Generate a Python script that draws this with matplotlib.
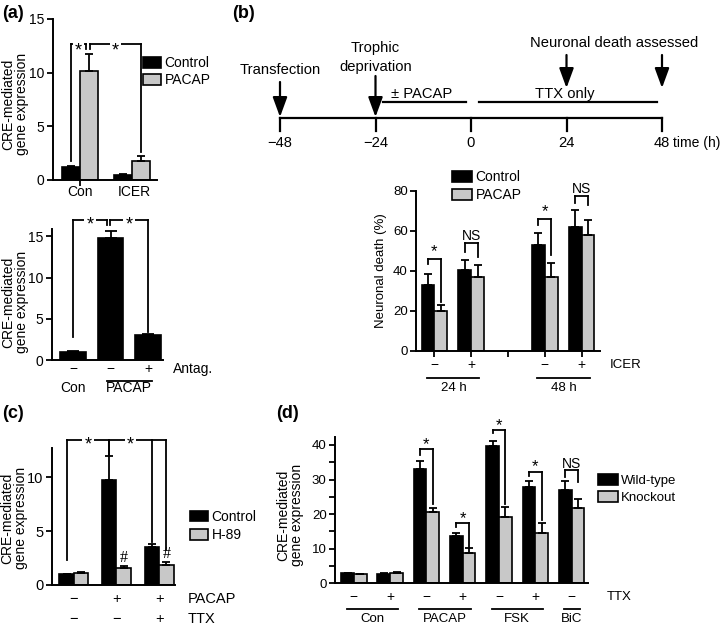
import matplotlib
matplotlib.use('Agg')
import matplotlib.pyplot as plt
from matplotlib.patches import Patch
from matplotlib.transforms import offset_copy
import numpy as np

plt.rcParams['font.family'] = ['Liberation Sans', 'DejaVu Sans']
plt.rcParams['axes.linewidth'] = 1.4

# ---------------- data ----------------
# (a) top: CRE-mediated expression, Con vs ICER
a1_groups = ['Con', 'ICER']
a1_control = [1.15, 0.42]
a1_control_err = [0.08, 0.06]
a1_pacap = [10.1, 1.75]
a1_pacap_err = [1.6, 0.45]
a1_legend = ['Control', 'PACAP']

# (a) bottom: PACAP +/- antagonist
a2_antag = ['\u2212', '\u2212', '+']
a2_treat = ['Con', 'PACAP']
a2_values = [1.0, 14.8, 3.0]
a2_err = [0.05, 0.8, 0.2]

# (b) timeline
tl_ticks = [-48, -24, 0, 24, 48]
tl_tick_labels = ['\u221248', '\u221224', '0', '24', '48']
tl_arrows_early = [-48, -24]
tl_arrows_death = [24, 48]
tl_periods = [('\u00b1 PACAP', -24, 0), ('TTX only', 0, 48)]

# (b) neuronal death
b_pos = [0, 1, 3, 4]
b_icer = ['\u2212', '+', '\u2212', '+']
b_time_groups = [('24 h', 0, 1), ('48 h', 3, 4)]
b_control = [33, 40.5, 53, 62]
b_control_err = [5.5, 5.0, 6.0, 8.5]
b_pacap = [20, 37, 37, 58]
b_pacap_err = [3.0, 6.0, 7.0, 7.5]
b_sig = ['*', 'NS', '*', 'NS']
b_sig_top = [46, 54, 66, 77.5]
b_sig_left = [43.5, 49.5, 63, 74]
b_sig_right = [24.5, 47, 48, 73]

# (c) H-89
c_pacap = ['\u2212', '+', '+']
c_ttx = ['\u2212', '\u2212', '+']
c_control = [1.0, 9.7, 3.5]
c_control_err = [0.05, 2.3, 0.3]
c_h89 = [1.15, 1.6, 1.9]
c_h89_err = [0.05, 0.15, 0.25]

# (d) wild-type vs knockout
d_ttx = ['\u2212', '+', '\u2212', '+', '\u2212', '+', '\u2212']
d_groups = [('Con', 0, 1), ('PACAP', 2, 3), ('FSK', 4, 5), ('BiC', 6, 6)]
d_wt = [2.9, 2.7, 33.2, 13.6, 39.7, 27.9, 26.9]
d_wt_err = [0.2, 0.2, 2.2, 0.9, 1.5, 1.6, 2.7]
d_ko = [2.6, 3.1, 20.5, 8.9, 19.2, 14.5, 21.9]
d_ko_err = [0.2, 0.2, 1.4, 1.2, 2.9, 2.9, 2.6]
d_sig_idx = [2, 3, 4, 5, 6]
d_sig = ['*', '*', '*', '*', 'NS']
d_sig_top = [38.8, 17.4, 44.3, 32.2, 32.9]
d_sig_left = [37.1, 16.3, 43.4, 31.0, 30.6]
d_sig_right = [23.0, 10.5, 23.0, 18.2, 29.3]

BLACK = '#000000'
GRAY = '#c8c8c8'
LW = 1.3

W, H = 720, 625
fig = plt.figure(figsize=(W / 100, H / 100), dpi=100)


def add_ax(l, t, r, b):
    return fig.add_axes([l / W, 1 - b / H, (r - l) / W, (b - t) / H])


def style(ax, fs=10):
    ax.spines['top'].set_visible(False)
    ax.spines['right'].set_visible(False)
    ax.tick_params(axis='y', direction='out', length=4, width=LW, labelsize=fs, pad=2)
    ax.tick_params(axis='x', length=0, labelbottom=False)
    ax.patch.set_alpha(0)


def bars(ax, x, vals, errs, color, width, cap=3):
    ax.bar(x, vals, width, color=color, edgecolor='k', linewidth=1.2, zorder=2)
    ax.errorbar(x, vals, yerr=[np.zeros(len(vals)), errs], fmt='none', ecolor='k',
                elinewidth=LW, capsize=cap, capthick=LW, zorder=3)


def bracket(ax, xs, bottoms, top, text, fs, dy, gap=False, tx=None):
    ax.plot([xs[0], xs[-1]], [top, top], color='k', lw=LW, clip_on=False, zorder=4)
    for x, b in zip(xs, bottoms):
        ax.plot([x, x], [b, top], color='k', lw=LW, clip_on=False, zorder=4)
    if tx is None:
        tx = (xs[0] + xs[1]) / 2
    bb = dict(facecolor='white', edgecolor='none', pad=1.5) if gap else None
    ax.annotate(text, xy=(tx, top), xytext=(0, dy), textcoords='offset pixels',
                ha='center', va='center', fontsize=fs, annotation_clip=False,
                bbox=bb, zorder=5)


def under(ax, x, dy, s, fs=10, ha='center', xc='data', dx=0):
    ax.annotate(s, xy=(x, 0), xycoords=(xc, 'axes fraction'), xytext=(dx, -dy),
                textcoords='offset pixels', ha=ha, va='center', fontsize=fs,
                annotation_clip=False)


def underline(ax, x0, x1, dy):
    tr = offset_copy(ax.get_xaxis_transform(), fig=fig, x=0, y=-dy, units='dots')
    ax.plot([x0, x1], [0, 0], color='k', lw=LW, transform=tr, clip_on=False)


def legend(ax, labels, colors, x_px, y_px, fs=10, hl=1.3, hh=0.85, ls=0.25):
    handles = [Patch(facecolor=c, edgecolor='k', linewidth=1.2) for c in colors]
    ax.legend(handles, labels, loc='upper left', bbox_to_anchor=(x_px / W, 1 - y_px / H),
              bbox_transform=fig.transFigure, frameon=False, fontsize=fs,
              handlelength=hl, handleheight=hh, handletextpad=0.25, labelspacing=ls,
              borderpad=0, borderaxespad=0)


def ylab(x_px, y_px, s, fs=10):
    fig.text(x_px / W, 1 - y_px / H, s, rotation=90, ha='center', va='center',
             fontsize=fs, linespacing=0.95)


def plabel(x_px, y_px, s):
    fig.text(x_px / W, 1 - y_px / H, s, ha='left', va='center', fontsize=13,
             fontweight='bold')


# ---------------- (a) top ----------------
ax = add_ax(53, 19, 157, 179.5)
style(ax)
xg = np.arange(len(a1_groups))
off = 0.17
bars(ax, xg - off, a1_control, a1_control_err, BLACK, 0.34)
bars(ax, xg + off, a1_pacap, a1_pacap_err, GRAY, 0.34)
ax.set_xlim(-0.52, 1.48)
ax.set_ylim(0, 15)
ax.set_yticks([0, 5, 10, 15])
ax.set_xticks(xg[:1])
ax.tick_params(axis='x', length=4, width=LW, direction='out')
for i, g in enumerate(a1_groups):
    under(ax, xg[i] + 0.05 * i, 12, g)
bracket(ax, [xg[0] - off, xg[0] + off - 0.05], [1.7, 12.2], 12.65, '*', 13, -7, gap=True)
bracket(ax, [xg[0] + off + 0.03, xg[1] + off], [12.2, 2.6], 12.65, '*', 13, -7, gap=True)
legend(ax, a1_legend, [BLACK, GRAY], 143, 56)
ylab(15, 104, 'CRE-mediated\ngene expression')
plabel(2, 13, '(a)')

# ---------------- (a) bottom ----------------
ax = add_ax(52, 229, 163, 360)
style(ax)
x2 = np.arange(len(a2_values))
bars(ax, x2, a2_values, a2_err, BLACK, 0.69, cap=4)
ax.set_xlim(-0.56, 2.4)
ax.set_ylim(0, 15.9)
ax.set_yticks([0, 5, 10, 15])
for i, s in enumerate(a2_antag):
    under(ax, x2[i], 9, s)
under(ax, 1, 9, 'Antag.', ha='left', xc='axes fraction', dx=10)
under(ax, x2[0], 28, a2_treat[0])
under(ax, (x2[1] + x2[2]) / 2, 28, a2_treat[1])
underline(ax, x2[1] - 0.1, x2[2] + 0.1, 21)
bracket(ax, [x2[0], x2[1] - 0.1], [2.8, 16.4], 17.0, '*', 13, -5.5, gap=True)
bracket(ax, [x2[1] - 0.01, x2[2]], [16.4, 3.4], 17.0, '*', 13, -5.5, gap=True)
ylab(15, 302, 'CRE-mediated\ngene expression')

# ---------------- (b) timeline ----------------
TFS = 10.6
tl = add_ax(240, 20, 715, 155)
tl.axis('off')
pxh = 382 / 96.0
tl.set_xlim(-48 - 40 / pxh, 48 + 53 / pxh)
tl.set_ylim(155, 20)
tl.plot([tl_ticks[0], tl_ticks[-1]], [118, 118], color='k', lw=1.6)
for t, lab in zip(tl_ticks, tl_tick_labels):
    tl.plot([t, t], [118, 131], color='k', lw=1.6)
    tl.text(t, 143, lab, ha='center', va='center', fontsize=TFS)
tl.annotate('time (h)', xy=(tl_ticks[-1], 143), xytext=(11, 0), textcoords='offset pixels',
            ha='left', va='center', fontsize=TFS - 0.6)
ap = dict(arrowstyle='-|>,head_length=0.6,head_width=0.22', lw=1.6, color='k',
          mutation_scale=20, shrinkA=0, shrinkB=0)
tl.annotate('', xy=(tl_arrows_early[0], 117), xytext=(tl_arrows_early[0], 82), arrowprops=ap)
tl.annotate('', xy=(tl_arrows_early[1], 117), xytext=(tl_arrows_early[1], 76), arrowprops=ap)
tl.text(tl_arrows_early[0], 70, 'Transfection', ha='center', va='center', fontsize=TFS)
tl.text(tl_arrows_early[1], 48, 'Trophic', ha='center', va='center', fontsize=TFS)
tl.text(tl_arrows_early[1], 67, 'deprivation', ha='center', va='center', fontsize=TFS)
for t in tl_arrows_death:
    tl.annotate('', xy=(t, 88), xytext=(t, 55), arrowprops=ap)
tl.text(np.mean(tl_arrows_death), 43, 'Neuronal death assessed', ha='center', va='center',
        fontsize=TFS)
for lab, t0, t1 in tl_periods:
    tl.plot([t0 + 2, t1 - 1.2], [102, 102], color='k', lw=1.6)
    tl.text((t0 + t1) / 2 - 0.5, 94, lab, ha='center', va='center', fontsize=TFS)
plabel(232, 13, '(b)')

# ---------------- (b) bars ----------------
ax = add_ax(416, 190.7, 600, 350.7)
style(ax, 9.5)
bp = np.array(b_pos, dtype=float)
ob = 0.175
bars(ax, bp - ob, b_control, b_control_err, BLACK, 0.35)
bars(ax, bp + ob, b_pacap, b_pacap_err, GRAY, 0.35)
ax.set_xlim(-0.5, 4.5)
ax.set_ylim(0, 80)
ax.set_yticks([0, 20, 40, 60, 80])
ax.set_xticks([0, 1, 2, 3, 4])
ax.tick_params(axis='x', length=4, width=LW, direction='out')
for i in range(len(b_pos)):
    under(ax, bp[i], 14.5, b_icer[i], fs=10)
    fs = 12 if b_sig[i] == '*' else 10
    d = 7.5 if b_sig[i] == '*' else 6.5
    bracket(ax, [bp[i] - ob, bp[i] + ob], [b_sig_left[i], b_sig_right[i]], b_sig_top[i],
            b_sig[i], fs, d)
under(ax, 1, 14.5, 'ICER', ha='left', xc='axes fraction', dx=10, fs=9.5)
for lab, i0, i1 in b_time_groups:
    underline(ax, i0 - 0.2, i1 + 0.22, 27.5)
    under(ax, (i0 + i1) / 2 + 0.02, 37.5, lab, fs=9.5)
legend(ax, ['Control', 'PACAP'], [BLACK, GRAY], 452, 170, fs=10, hl=1.45, hh=0.85, ls=0.3)
ylab(381, 271, 'Neuronal death (%)', fs=9.5)

# ---------------- (c) ----------------
ax = add_ax(52, 448, 175, 585)
style(ax, 10.5)
xc = np.arange(len(c_control))
oc = 0.17
bars(ax, xc - oc, c_control, c_control_err, BLACK, 0.34)
bars(ax, xc + oc, c_h89, c_h89_err, GRAY, 0.34)
ax.set_xlim(-0.51, 2.37)
ax.set_ylim(0, 12.7)
ax.set_yticks([0, 5, 10])
for i in range(len(xc)):
    under(ax, xc[i], 14, c_pacap[i], fs=10.5)
    under(ax, xc[i], 34, c_ttx[i], fs=10.5)
under(ax, 1, 14, 'PACAP', ha='left', xc='axes fraction', dx=13, fs=10.5)
under(ax, 1, 34, 'TTX', ha='left', xc='axes fraction', dx=13, fs=10.5)
for i in (1, 2):
    ax.annotate('#', xy=(xc[i] + oc, c_h89[i] + c_h89_err[i]), xytext=(0, 8),
                textcoords='offset pixels', ha='center', va='center', fontsize=11.5,
                family=['Liberation Serif', 'DejaVu Serif'])
bracket(ax, [xc[0] - oc, xc[1] - oc], [2.3, 12.0], 13.4, '*', 13, -4.5, gap=True)
bracket(ax, [xc[1] - oc, xc[2] - oc, xc[2] + oc], [12.0, 4.0, 3.2], 13.4, '*', 13, -4.5,
        gap=True)
legend(ax, ['Control', 'H-89'], [BLACK, GRAY], 190, 510, fs=10, hl=1.3, hh=0.8, ls=0.3)
ylab(14, 518, 'CRE-mediated\ngene expression')
plabel(2, 413, '(c)')

# ---------------- (d) ----------------
ax = add_ax(335, 436.7, 588, 583.3)
style(ax, 9.5)
xd = np.arange(len(d_wt))
od = 0.175
bars(ax, xd - od, d_wt, d_wt_err, BLACK, 0.35)
bars(ax, xd + od, d_ko, d_ko_err, GRAY, 0.35)
ax.set_xlim(-0.52, 6.45)
ax.set_ylim(0, 42.4)
ax.set_yticks([0, 10, 20, 30, 40])
ax.set_yticks([5, 15, 25, 35], minor=True)
ax.tick_params(axis='y', which='minor', length=4, width=LW)
for i in range(len(xd)):
    under(ax, xd[i], 13.7, d_ttx[i], fs=10)
under(ax, 1, 13.7, 'TTX', ha='left', xc='axes fraction', dx=19, fs=9.5)
for lab, i0, i1 in d_groups:
    underline(ax, i0 - 0.2, i1 + 0.22, 25.7)
    under(ax, (i0 + i1) / 2, 36, lab, fs=9.5)
for k, i in enumerate(d_sig_idx):
    fs = 12 if d_sig[k] == '*' else 10
    dd = 5 if d_sig[k] == '*' else 6
    bracket(ax, [xd[i] - od, xd[i] + od], [d_sig_left[k], d_sig_right[k]], d_sig_top[k],
            d_sig[k], fs, dd)
legend(ax, ['Wild-type', 'Knockout'], [BLACK, GRAY], 598, 474, fs=9.5, hl=1.5, hh=0.9, ls=0.3)
ylab(290, 515, 'CRE-mediated\ngene expression')
plabel(276, 413, '(d)')

fig.savefig('out.png', dpi=100)
